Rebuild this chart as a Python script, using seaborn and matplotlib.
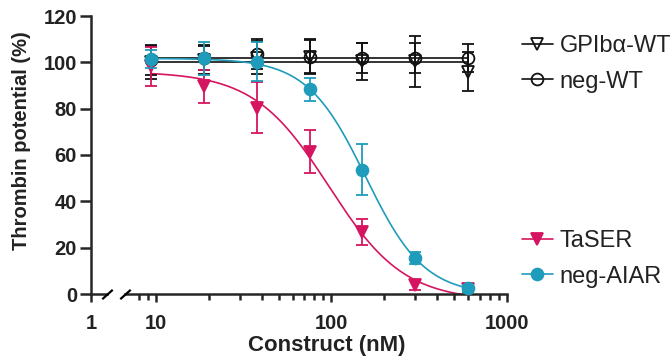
import numpy as np
import pandas as pd
import matplotlib
matplotlib.use("Agg")
import matplotlib.pyplot as plt
import seaborn as sns
from matplotlib.lines import Line2D
from matplotlib.ticker import FixedLocator, NullFormatter, FixedFormatter

# ---------------- data ----------------
conc = [9.375, 18.75, 37.5, 75, 150, 300, 600]

gpib_wt = [100.0, 101.0, 102.0, 102.5, 100.4, 100.4, 96.0]
gpib_wt_err = [7.0, 6.0, 7.0, 7.5, 8.0, 11.0, 8.5]

neg_wt = [101.0, 102.0, 103.5, 102.5, 102.0, 101.7, 101.7]
neg_wt_err = [6.5, 5.5, 6.5, 7.0, 6.5, 6.5, 6.0]

taser = [98.3, 89.6, 80.3, 61.5, 26.8, 3.9, 2.2]
taser_err = [8.5, 7.0, 11.0, 9.2, 5.7, 2.0, 1.5]

neg_aiar = [101.5, 101.7, 100.3, 88.3, 53.7, 15.5, 2.5]
neg_aiar_err = [4.0, 7.0, 8.5, 5.0, 11.0, 2.5, 1.5]

# fitted curve parameters
gpib_wt_fit = 100.0
neg_wt_fit = 101.7
taser_fit = (-3.0, 96.0, 96.6, 2.03)        # bottom, top, IC50, Hill
neg_aiar_fit = (-0.5, 101.7, 156.6, 2.6)

labels = ["GPIbα-WT", "neg-WT", "TaSER", "neg-AIAR"]
x_major = [10, 100, 1000]
y_ticks = [0, 20, 40, 60, 80, 100, 120]

PINK = "#D5155F"
TEAL = "#1F9CBB"
BLACK = "#111111"
TXT = "#222222"

sns.set_style("ticks")
plt.rcParams["font.family"] = ["Liberation Sans", "DejaVu Sans"]
plt.rcParams["axes.linewidth"] = 1.8

fig = plt.figure(figsize=(6.72, 3.58), dpi=100)
W, H = 672, 358
ax1 = fig.add_axes([91 / W, 64 / H, 16 / W, 278 / H])
ax2 = fig.add_axes([125 / W, 64 / H, 382 / W, 278 / H], sharey=ax1)

for ax in (ax1, ax2):
    ax.set_xscale("log")
    ax.set_ylim(0, 120)
    ax.spines["top"].set_visible(False)
    ax.spines["right"].set_visible(False)
    ax.patch.set_alpha(0)

ax1.set_xlim(1, 1.233)
ax2.set_xlim(6.66, 1000)
ax2.spines["left"].set_visible(False)

# ticks
ax1.set_yticks(y_ticks)
ax1.set_yticklabels([str(v) for v in y_ticks])
ax1.tick_params(axis="y", length=8, width=1.8, pad=2, labelsize=14.5)
ax1.xaxis.set_major_locator(FixedLocator([1]))
ax1.xaxis.set_major_formatter(FixedFormatter(["1"]))
ax1.xaxis.set_minor_locator(FixedLocator([]))
ax1.tick_params(axis="x", length=6, width=1.8, pad=8.5, labelsize=14.5)

ax2.tick_params(axis="y", left=False, labelleft=False)
ax2.xaxis.set_major_locator(FixedLocator(x_major))
ax2.xaxis.set_major_formatter(FixedFormatter([str(v) for v in x_major]))
minor = [8, 9] + [m * 10 for m in range(2, 10)] + [m * 100 for m in range(2, 10)]
ax2.xaxis.set_minor_locator(FixedLocator(minor))
ax2.xaxis.set_minor_formatter(NullFormatter())
ax2.tick_params(axis="x", which="major", length=6, width=1.8, pad=8.5, labelsize=14.5)
ax2.tick_params(axis="x", which="minor", length=4, width=1.8)
for ax in (ax1, ax2):
    for lab in ax.get_xticklabels() + ax.get_yticklabels():
        lab.set_fontweight("bold")
        lab.set_color(TXT)

# axis break marks
slash = [(-1, -0.9), (1, 0.9)]
ax1.plot([1], [0], transform=ax1.transAxes, marker=slash, markersize=7.5,
         mew=1.6, color="k", clip_on=False, zorder=5)
ax2.plot([0], [0], transform=ax2.transAxes, marker=slash, markersize=7.5,
         mew=1.6, color="k", clip_on=False, zorder=5)

# fitted curves
xs = np.geomspace(conc[0], conc[-1], 300)

def four_pl(x, p):
    b, t, ic, h = p
    return b + (t - b) / (1 + (x / ic) ** h)

fits = pd.DataFrame({
    "x": np.concatenate([xs] * 4),
    "y": np.concatenate([
        np.full_like(xs, gpib_wt_fit),
        np.full_like(xs, neg_wt_fit),
        four_pl(xs, taser_fit),
        four_pl(xs, neg_aiar_fit),
    ]),
    "series": np.repeat(labels, len(xs)),
})
palette = {labels[0]: BLACK, labels[1]: BLACK, labels[2]: PINK, labels[3]: TEAL}
sns.lineplot(data=fits, x="x", y="y", hue="series", palette=palette,
             linewidth=1.2, legend=False, ax=ax2, zorder=2)

# points with error bars
series = [
    (gpib_wt, gpib_wt_err, BLACK, "v", "none"),
    (neg_wt, neg_wt_err, BLACK, "o", "none"),
    (taser, taser_err, PINK, "v", PINK),
    (neg_aiar, neg_aiar_err, TEAL, "o", TEAL),
]
for i, (vals, err, col, mk, fc) in enumerate(series):
    eb = ax2.errorbar(conc, vals, yerr=err, fmt="none", ecolor=col,
                      elinewidth=1.3, capsize=4, capthick=1.3, zorder=3 + i)
    for a in eb.lines[1] + eb.lines[2]:
        a.set_clip_on(False)
    ax2.plot(conc, vals, linestyle="none", marker=mk, markersize=8.5,
             markerfacecolor=fc, markeredgecolor=col, markeredgewidth=1.3,
             clip_on=False, zorder=3.5 + i)

for ax in (ax1, ax2):
    ax.set_xlabel("")
    ax.set_ylabel("")

fig.text(22 / W, 1 - 141 / H, "Thrombin potential (%)", rotation=90,
         ha="center", va="center", fontsize=14.5, fontweight="bold", color=TXT)
fig.text(327 / W, 1 - 345 / H, "Construct (nM)", ha="center", va="center",
         fontsize=16, fontweight="bold", color=TXT)

# legends
def handle(col, mk, fc):
    return Line2D([0], [0], color=col, linewidth=1.2, marker=mk, markersize=8.5,
                  markerfacecolor=fc, markeredgecolor=col, markeredgewidth=1.3)

h1 = [handle(BLACK, "v", "none"), handle(BLACK, "o", "none")]
h2 = [handle(PINK, "v", PINK), handle(TEAL, "o", TEAL)]
common = dict(frameon=False, fontsize=17, handlelength=1.3, handletextpad=0.3,
              labelspacing=0.58, borderpad=0, borderaxespad=0, loc="upper left")
leg1 = fig.legend(h1, labels[:2], bbox_to_anchor=(522 / W, 1 - 35 / H), **common)
leg2 = fig.legend(h2, labels[2:], bbox_to_anchor=(522 / W, 1 - 230 / H), **common)
for leg in (leg1, leg2):
    for t in leg.get_texts():
        t.set_color(TXT)

fig.savefig("out.png", dpi=100)
